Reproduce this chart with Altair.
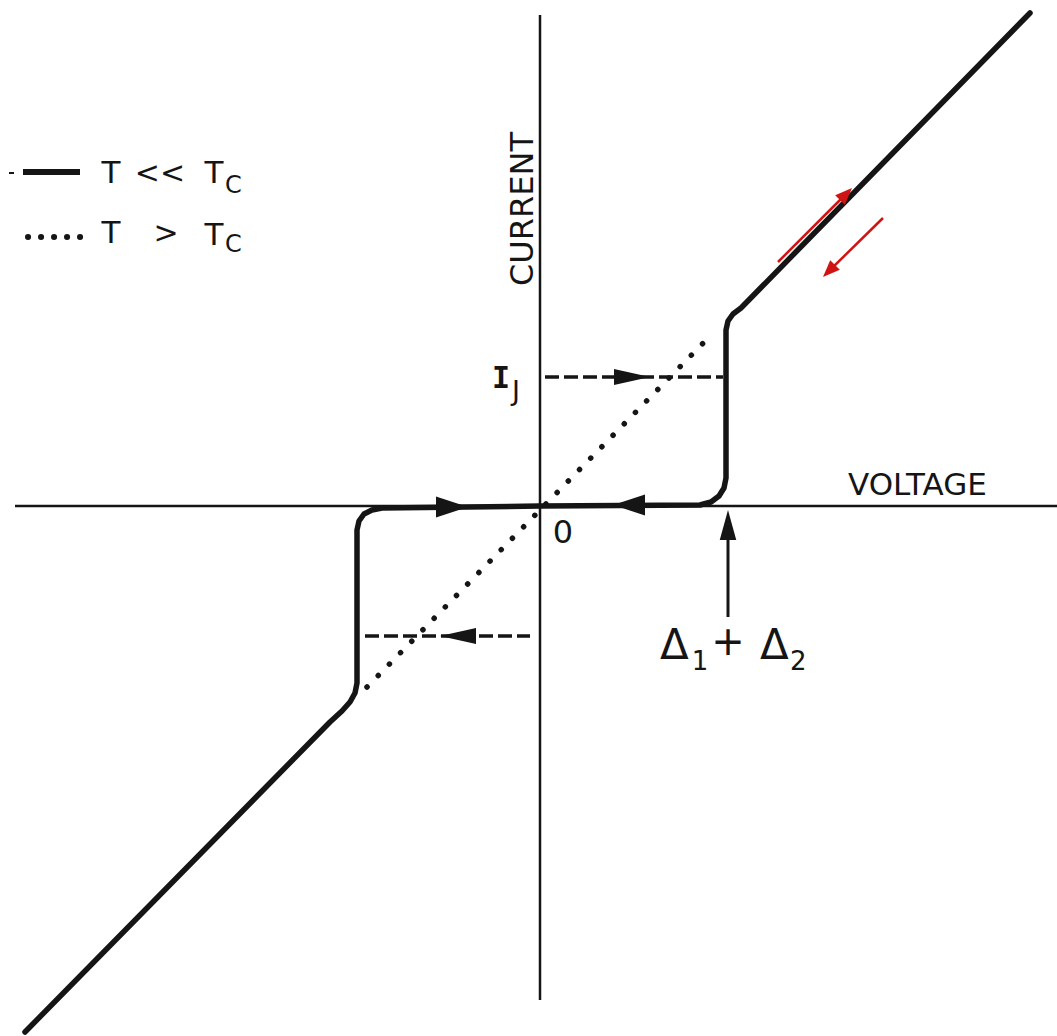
import altair as alt
import pandas as pd

# Schematic current–voltage characteristic of a superconducting tunnel junction.
# Arbitrary units, origin at the crossing of the axes.

# T << Tc: zero-voltage supercurrent, jump to the gap voltage, quasiparticle branch
solid_v = [-515, -210, -198, -190, -185, -183, -183, -181, -176, -168, -158, 0, 160, 171, 179, 184, 186, 186, 188, 193, 201, 490]
solid_i = [-526, -216, -205, -196, -187, -177, -24, -15, -8, -4, -2, 0, 1, 4, 10, 18, 28, 176, 185, 192, 198, 493]

# T > Tc: ohmic line through the origin
ohmic_v = [-173, 173]
ohmic_i = [-181, 173]

# switching current levels (+I_J and -I_J) and gap voltage Δ1 + Δ2
ij_pos, ij_neg = 129, -130
gap_v = 188

INK = "#151515"
RED = "#d01414"

xs = alt.Scale(domain=[-540, 517], nice=False, zero=False)
ys = alt.Scale(domain=[-530, 506], nice=False, zero=False)


def X(f="v"):
    return alt.X(f"{f}:Q", scale=xs, axis=None)


def Y(f="i"):
    return alt.Y(f"{f}:Q", scale=ys, axis=None)


def seg(v1, i1, v2, i2, color=INK, width=2.5, dash=None, cap="butt"):
    df = pd.DataFrame({"v": [v1], "i": [i1], "v2": [v2], "i2": [i2]})
    kw = dict(color=color, strokeWidth=width, strokeCap=cap)
    if dash:
        kw["strokeDash"] = dash
    return alt.Chart(df).mark_rule(**kw).encode(
        x=X(), y=Y(), x2="v2:Q", y2="i2:Q"
    )


def head(v, i, path, size, angle=0, color=INK):
    df = pd.DataFrame({"v": [v], "i": [i]})
    return alt.Chart(df).mark_point(
        shape=path, size=size, angle=angle, filled=True, opacity=1,
        color=color, strokeWidth=0
    ).encode(x=X(), y=Y())


def label(text, v, i, size, align="left", font="DejaVu Sans", angle=0,
          baseline="alphabetic", weight="normal"):
    df = pd.DataFrame({"v": [v], "i": [i], "t": [text]})
    return alt.Chart(df).mark_text(
        fontSize=size, font=font, align=align, baseline=baseline,
        angle=angle, color=INK, fontWeight=weight
    ).encode(x=X(), y=Y(), text="t:N")


RIGHT_NARROW = "M1,0L-1,-0.45L-1,0.45Z"
LEFT_NARROW = "M-1,0L1,-0.45L1,0.45Z"
RIGHT_WIDE = "M1,0L-1,-0.65L-1,0.65Z"
LEFT_WIDE = "M-1,0L1,-0.65L1,0.65Z"
UP = "M0,-1L-0.55,1L0.55,1Z"
UP_RED = "M0,-1L-0.8,1L0.8,1Z"

# axes
axes = [
    seg(-525, 0, 517, 0, width=2.5),
    seg(0, 491, 0, -494, width=2.5),
]

# T > Tc dotted ohmic line
ohmic = alt.Chart(pd.DataFrame({"v": ohmic_v, "i": ohmic_i})).mark_line(
    color=INK, strokeWidth=5.5, strokeDash=[0.1, 15.9], strokeCap="round"
).encode(x=X(), y=Y())

# T << Tc curve
curve_df = pd.DataFrame({"v": solid_v, "i": solid_i, "k": range(len(solid_v))})
curve = alt.Chart(curve_df).mark_line(
    color=INK, strokeWidth=5.5, strokeCap="round", strokeJoin="round"
).encode(x=X(), y=Y(), order="k:Q")

# dashed switching lines with direction arrows
dashed = [
    seg(5, ij_pos, 183, ij_pos, width=3.5, dash=[14, 5]),
    seg(-175, ij_neg, -10, ij_neg, width=3.5, dash=[14, 5]),
]
heads = [
    head(92, ij_pos, RIGHT_NARROW, 36 ** 2),
    head(-82, ij_neg, LEFT_NARROW, 36 ** 2),
    head(-88, -1, RIGHT_WIDE, 32 ** 2),
    head(89, 1, LEFT_WIDE, 32 ** 2),
    head(gap_v, -19, UP, 30 ** 2),
]
gap_arrow = seg(gap_v, -24, gap_v, -111, width=3)

# red arrows along the quasiparticle branch
red = [
    seg(238, 244, 306, 312, color=RED, width=2.5),
    head(306, 312, UP_RED, 17 ** 2, angle=45, color=RED),
    seg(343, 288, 289, 235, color=RED, width=2.5),
    head(289, 235, UP_RED, 17 ** 2, angle=225, color=RED),
]

# axis labels and annotations
texts = [
    label("VOLTAGE", 308, 11, 31),
    label("CURRENT", -7, 297, 32, align="center", angle=270),
    label("I", -39, 118, 30, align="center", font="DejaVu Sans Mono", weight="bold"),
    label("J", -28, 106, 27),
    label("0", 23, -37, 32, align="center"),
    label("Δ", 120, -153, 42),
    label("1", 160, -164, 26, align="center"),
    label("+", 188, -149, 40, align="center"),
    label("Δ", 220, -153, 42),
    label("2", 250, -164, 26),
]

# legend
legend = [
    seg(-531, 333, -526, 333, width=2),
    seg(-517, 334, -460, 334, width=6),
    seg(-512, 269, -459.9, 269, width=6, dash=[0.1, 12.9], cap="round"),
    label("T", -429, 323, 31, align="center"),
    label("<<", -380, 323, 30, align="center"),
    label("T", -326, 323, 31, align="center"),
    label("C", -315, 313, 24),
    label("T", -429, 263, 31, align="center"),
    label(">", -374, 263, 30, align="center"),
    label("T", -326, 261, 31, align="center"),
    label("C", -315, 254, 24),
]

chart = alt.layer(
    *axes, ohmic, *dashed, curve, gap_arrow, *heads, *red, *texts, *legend
).properties(
    width=1057,
    height=1036,
    padding=0,
    autosize=alt.AutoSizeParams(type="none"),
    background="white",
).configure_view(stroke=None)

chart.save("out.html", embed_options={"renderer": "svg", "actions": False})
